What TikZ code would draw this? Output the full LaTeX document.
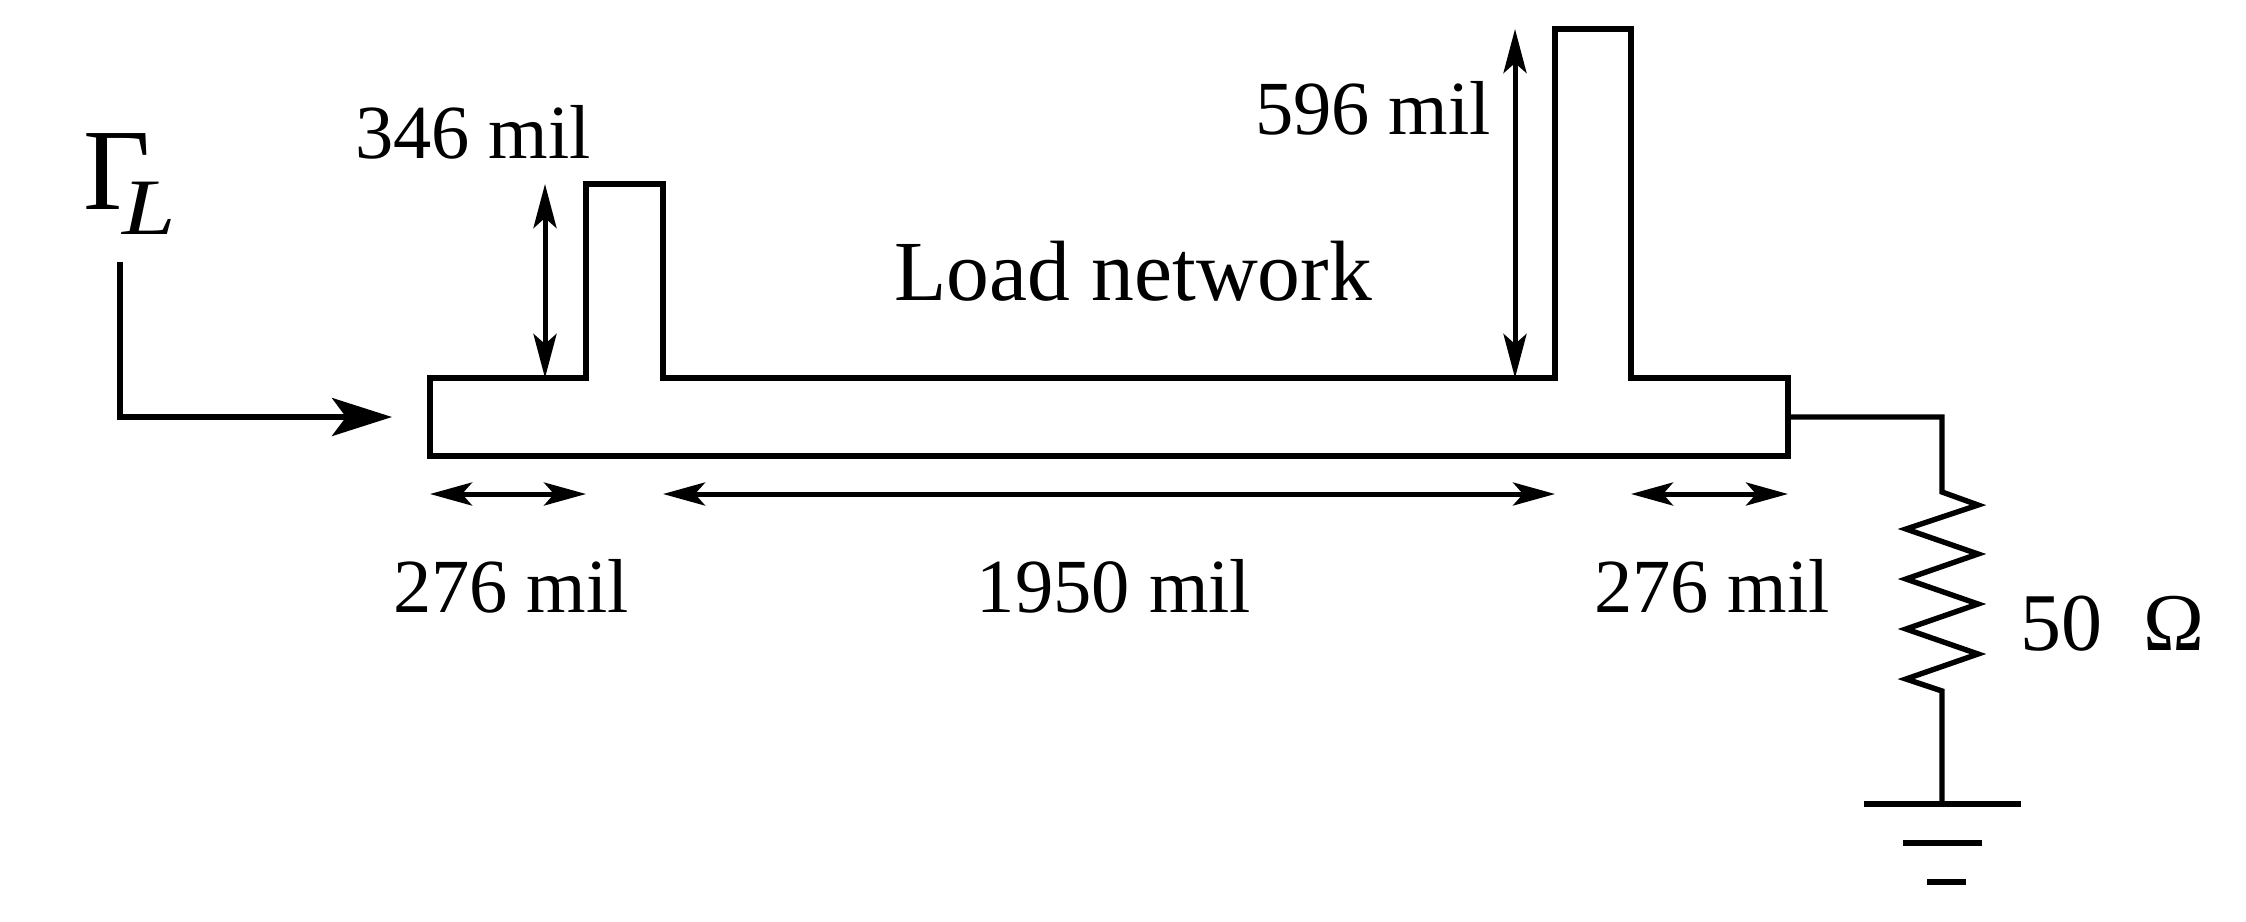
\documentclass[tikz,border=0pt]{standalone}
\usepackage{graphicx}
\usepackage{fontspec}
\setmainfont{Liberation Serif}
\usetikzlibrary{arrows.meta}
\tikzset{
    wire/.style={line width=2.7pt},
    dimh/.style={line width=2.5pt,{Stealth[length=21pt,width=11.5pt,inset=5pt]}-{Stealth[length=21pt,width=11.5pt,inset=5pt]}},
    dimv/.style={line width=2.5pt,{Stealth[length=22pt,width=11.5pt,inset=5pt]}-{Stealth[length=22pt,width=11.5pt,inset=5pt]}},
    lbl/.style={inner sep=0pt,anchor=base,font=\fontsize{38.25}{40}\selectfont},
}
\begin{document}
\begin{tikzpicture}[x=0.5pt,y=-0.5pt]
    \useasboundingbox (0,0) rectangle (2246,921);
    % microstrip outline
    \draw [wire] (430,378) to (586,378) to (586,184) to (663,184) to (663,378)
        to (1555,378) to (1555,29) to (1631,29) to (1631,378) to (1788,378)
        to (1788,456) to (430,456) -- cycle;
    % reflection coefficient
    \node (gammal) [inner sep=0pt,anchor=base west] at (83,209) {\fontsize{58}{60}\selectfont Γ\hspace{-14pt}\raisebox{-12.5pt}{\fontsize{40}{42}\selectfont\itshape\scalebox{1.2}[1]{L}}};
    \coordinate (gammastart) at (120,262);
    \coordinate (gammacorner) at (120,417);
    \coordinate (gammatip) at (392,417);
    \draw [wire,-{Stealth[length=30pt,width=19pt,inset=7pt]}] (gammastart) to (gammacorner) to (gammatip);
    % stub lengths
    \coordinate (stubatop) at (545,184);
    \coordinate (stubabot) at (545,378);
    \coordinate (stubbtop) at (1515,29);
    \coordinate (stubbbot) at (1515,378);
    \draw [dimv] (stubatop) to (stubabot);
    \draw [dimv] (stubbtop) to (stubbbot);
    \node (stubalbl) [lbl] at (473,158) {346 mil};
    \node (stubblbl) [lbl] at (1373,134) {596 mil};
    \node (loadlbl) [lbl,font=\fontsize{42.8}{45}\selectfont] at (1133,300) {Load network};
    % line lengths
    \coordinate (la) at (430,494);
    \coordinate (lb) at (586,494);
    \coordinate (ma) at (663,494);
    \coordinate (mb) at (1555,494);
    \coordinate (ra) at (1631,494);
    \coordinate (rb) at (1788,494);
    \draw [dimh] (la) to (lb);
    \draw [dimh] (ma) to (mb);
    \draw [dimh] (ra) to (rb);
    \node (leftlbl) [lbl] at (511,612) {276 mil};
    \node (midlbl) [lbl] at (1114,612) {1950 mil};
    \node (rightlbl) [lbl] at (1712,612) {276 mil};
    % load and ground
    \coordinate (out) at (1788,417);
    \coordinate (rtop) at (1942,417);
    \coordinate (gnd) at (1942,804);
    \draw [wire] (out) to (rtop) to (1942,492) to (1978,505) to (1906,529) to (1978,554)
        to (1906,579) to (1978,604) to (1906,629) to (1978,654) to (1906,679) to (1942,691) to (gnd);
    \node (reslbl) [lbl,font=\fontsize{41}{43}\selectfont] at (2112,650) {50\ \ Ω};
    \draw [wire] (1864,804) to (2021,804);
    \draw [wire] (1903,843) to (1982,843);
    \draw [wire] (1927,882) to (1966,882);
\end{tikzpicture}
\end{document}
